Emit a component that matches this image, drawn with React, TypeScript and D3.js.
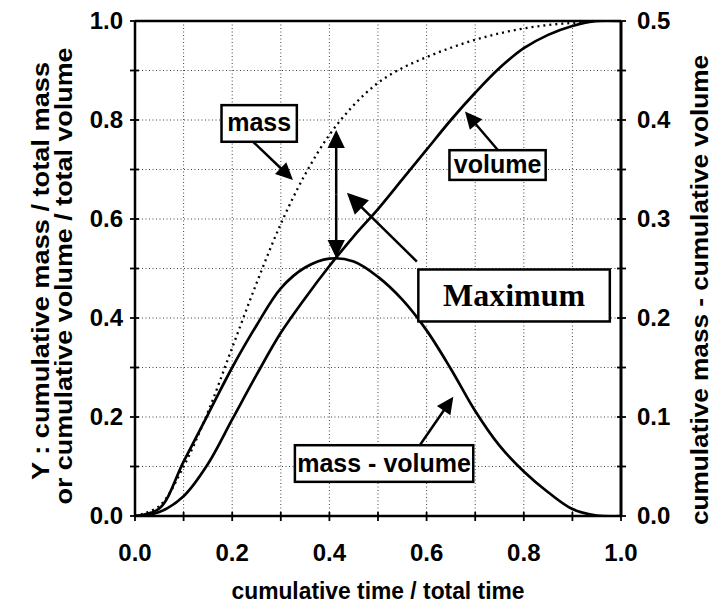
import React from "react";
import * as d3 from "d3";

const timeX = [0, 0.05, 0.1, 0.15, 0.2, 0.25, 0.3, 0.35, 0.4, 0.45, 0.5, 0.55, 0.6, 0.65, 0.7, 0.75, 0.8, 0.85, 0.9, 0.95, 1.0];
const massY = [0, 0.02, 0.1, 0.21, 0.34, 0.47, 0.59, 0.69, 0.77, 0.83, 0.875, 0.905, 0.927, 0.946, 0.962, 0.975, 0.985, 0.992, 0.996, 1.0, 1.0];
const volumeY = [0, 0.008, 0.04, 0.105, 0.195, 0.285, 0.37, 0.44, 0.505, 0.565, 0.62, 0.68, 0.74, 0.8, 0.855, 0.905, 0.945, 0.972, 0.99, 1.0, 1.0];
const diffY = [0, 0.0075, 0.055, 0.1025, 0.15, 0.1925, 0.23, 0.251, 0.26, 0.257, 0.2415, 0.2185, 0.1875, 0.1485, 0.106, 0.071, 0.045, 0.024, 0.007, 0.0005, 0];

const xTickLabels = [0, 0.2, 0.4, 0.6, 0.8, 1.0];
const leftTickLabels = [0, 0.2, 0.4, 0.6, 0.8, 1.0];
const rightTickLabels = [0, 0.1, 0.2, 0.3, 0.4, 0.5];
const gridSteps = [0.1, 0.2, 0.3, 0.4, 0.5, 0.6, 0.7, 0.8, 0.9];

const xLabel = "cumulative time / total time";
const yLabel1 = "Y : cumulative mass / total mass";
const yLabel2 = "or cumulative volume / total volume";
const y2Label = "cumulative mass - cumulative volume";

// annotations in data units (x, left-axis y)
const boxes = [
  { text: "mass", x0: 0.178, x1: 0.333, y0: 0.756, y1: 0.83, serif: false },
  { text: "volume", x0: 0.647, x1: 0.845, y0: 0.679, y1: 0.739, serif: false },
  { text: "Maximum", x0: 0.583, x1: 0.977, y0: 0.393, y1: 0.498, serif: true },
  { text: "mass - volume", x0: 0.329, x1: 0.696, y0: 0.069, y1: 0.143, serif: false },
];
const arrows = [
  { x0: 0.243, y0: 0.756, x1: 0.325, y1: 0.679, head: 17 },
  { x0: 0.747, y0: 0.739, x1: 0.679, y1: 0.817, head: 17 },
  { x0: 0.58, y0: 0.514, x1: 0.436, y1: 0.653, head: 21 },
  { x0: 0.586, y0: 0.143, x1: 0.655, y1: 0.241, head: 17 },
  { x0: 0.414, y0: 0.65, x1: 0.414, y1: 0.78, head: 18 },
  { x0: 0.414, y0: 0.65, x1: 0.414, y1: 0.521, head: 18 },
];

const W = 712, H = 608;
const L = 135, R = 621, T = 21, B = 516;

export default function App() {
  const x = d3.scaleLinear().domain([0, 1]).range([L, R]);
  const y = d3.scaleLinear().domain([0, 1]).range([B, T]);
  const y2 = d3.scaleLinear().domain([0, 0.5]).range([B, T]);

  const curve = d3.curveCatmullRom.alpha(0.5);
  const massLine = d3.line<number>().x((_, i) => x(timeX[i])).y((d) => y(d)).curve(curve);
  const volLine = d3.line<number>().x((_, i) => x(timeX[i])).y((d) => y(d)).curve(curve);
  const diffLine = d3.line<number>().x((_, i) => x(timeX[i])).y((d) => y2(d)).curve(curve);

  const sans = "'Liberation Sans', Arial, Helvetica, sans-serif";
  const serif = "'Liberation Serif', 'Times New Roman', serif";

  const minorX = d3.range(0, 1.0001, 0.1);
  const minorY2 = d3.range(0, 0.5001, 0.05);

  const arrowEl = (a: any, i: number) => {
    const px0 = x(a.x0), py0 = y(a.y0), px1 = x(a.x1), py1 = y(a.y1);
    const dx = px1 - px0, dy = py1 - py0;
    const len = Math.hypot(dx, dy);
    const ux = dx / len, uy = dy / len;
    const h = a.head, w = h * 0.48;
    const bx = px1 - ux * h, by = py1 - uy * h;
    const pts = [
      [px1, py1],
      [bx - uy * w, by + ux * w],
      [bx + uy * w, by - ux * w],
    ];
    return (
      <g key={"ar" + i}>
        <line x1={px0} y1={py0} x2={bx + ux * 2} y2={by + uy * 2} stroke="#000" strokeWidth={2.5} />
        <polygon points={pts.map((p) => p.join(",")).join(" ")} fill="#000" />
      </g>
    );
  };

  return (
    <svg width={W} height={H} style={{ position: "fixed", left: 0, top: 0, background: "#fff" }}>
      <rect x={0} y={0} width={W} height={H} fill="#fff" />
      <defs>
        <clipPath id="plot">
          <rect x={L} y={T} width={R - L} height={B - T} />
        </clipPath>
      </defs>
      {/* grid */}
      <g stroke="#222" strokeWidth={1} strokeDasharray="1 2.5" opacity={0.85}>
        {gridSteps.map((g) => (
          <line key={"gx" + g} x1={x(g)} x2={x(g)} y1={T} y2={B} />
        ))}
        {gridSteps.map((g) => (
          <line key={"gy" + g} x1={L} x2={R} y1={y(g)} y2={y(g)} />
        ))}
      </g>
      {/* curves */}
      <g clipPath="url(#plot)" fill="none">
        <path d={massLine(massY) || ""} stroke="#000" strokeWidth={2.3} strokeDasharray="2 4" />
        <path d={volLine(volumeY) || ""} stroke="#000" strokeWidth={2.7} />
        <path d={diffLine(diffY) || ""} stroke="#000" strokeWidth={2.7} />
      </g>
      {/* frame */}
      <g stroke="#000" fill="none">
        <line x1={L} x2={R} y1={T} y2={T} strokeWidth={2.5} />
        <line x1={L} x2={R} y1={B} y2={B} strokeWidth={2.5} />
        <line x1={L} x2={L} y1={T} y2={B} strokeWidth={2.5} />
        <line x1={R} x2={R} y1={T} y2={B} strokeWidth={3} />
      </g>
      {/* ticks */}
      <g stroke="#000" strokeWidth={1.8}>
        {minorX.map((t) => (
          <line key={"tx" + t} x1={x(t)} x2={x(t)} y1={B - 4} y2={B + 5} />
        ))}
        {minorX.map((t) => (
          <line key={"ty" + t} x1={L - 5} x2={L + 4} y1={y(t)} y2={y(t)} />
        ))}
        {minorY2.map((t) => (
          <line key={"ty2" + t} x1={R - 4} x2={R + 5} y1={y2(t)} y2={y2(t)} />
        ))}
      </g>
      {/* tick labels */}
      <g fontFamily={sans} fontWeight="bold" fontSize={24} fill="#000">
        {xTickLabels.map((t) => (
          <text key={"lx" + t} x={x(t)} y={B + 45} textAnchor="middle">
            {d3.format(".1f")(t)}
          </text>
        ))}
        {leftTickLabels.map((t) => (
          <text key={"ly" + t} x={L - 12} y={y(t) + 8} textAnchor="end">
            {d3.format(".1f")(t)}
          </text>
        ))}
        {rightTickLabels.map((t) => (
          <text key={"ry" + t} x={R + 16} y={y2(t) + 8} textAnchor="start">
            {d3.format(".1f")(t)}
          </text>
        ))}
      </g>
      {/* axis titles */}
      <g fontFamily={sans} fontWeight="bold" fontSize={23} fill="#000">
        <text x={378} y={599} textAnchor="middle" textLength={293} lengthAdjust="spacingAndGlyphs">
          {xLabel}
        </text>
        <text transform="translate(49,271) rotate(-90)" textAnchor="middle" textLength={418} lengthAdjust="spacingAndGlyphs">
          {yLabel1}
        </text>
        <text transform="translate(72,276) rotate(-90)" textAnchor="middle" textLength={457} lengthAdjust="spacingAndGlyphs">
          {yLabel2}
        </text>
        <text transform="translate(708,290) rotate(-90)" textAnchor="middle" textLength={470} lengthAdjust="spacingAndGlyphs">
          {y2Label}
        </text>
      </g>
      {/* annotations */}
      {arrows.map(arrowEl)}
      {boxes.map((b, i) => {
        const bx = x(b.x0), by = y(b.y1), bw = x(b.x1) - x(b.x0), bh = y(b.y0) - y(b.y1);
        return (
          <g key={"bx" + i}>
            <rect x={bx} y={by} width={bw} height={bh} fill="#fff" stroke="#000" strokeWidth={2.5} />
            <text
              x={bx + bw / 2}
              y={by + bh / 2 + (b.serif ? 11 : 8)}
              textAnchor="middle"
              fontFamily={b.serif ? serif : sans}
              fontWeight="bold"
              fontSize={b.serif ? 31 : 25}
              textLength={b.serif ? 142 : undefined}
              lengthAdjust="spacingAndGlyphs"
            >
              {b.text}
            </text>
          </g>
        );
      })}
    </svg>
  );
}
